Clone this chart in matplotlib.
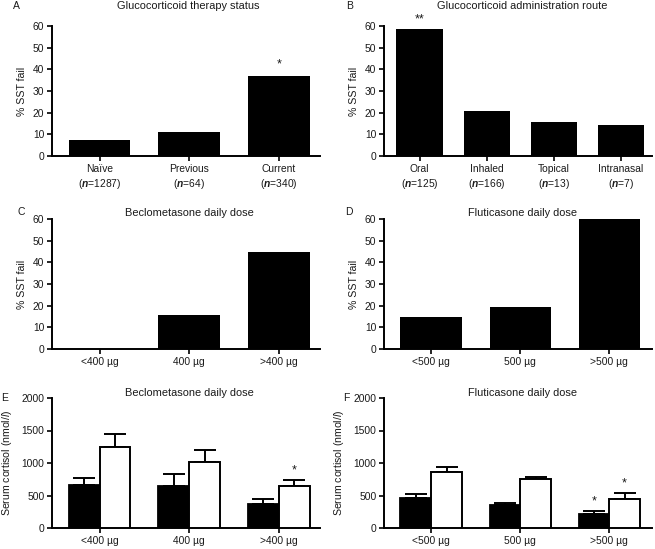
import matplotlib
matplotlib.use("Agg")
import matplotlib.pyplot as plt
import numpy as np

plt.rcParams['font.family'] = ['Liberation Sans', 'DejaVu Sans']
plt.rcParams['mathtext.fontset'] = 'custom'
plt.rcParams['mathtext.rm'] = 'Liberation Sans'
plt.rcParams['mathtext.it'] = 'Liberation Sans:italic'
plt.rcParams['mathtext.bf'] = 'Liberation Sans:bold:italic'

TXT = '#1a1a1a'

# ---------------- data ----------------
status_cats = ['Naïve', 'Previous', 'Current']
status_n = [1287, 64, 340]
status_fail = [7.5, 11.0, 37.0]

route_cats = ['Oral', 'Inhaled', 'Topical', 'Intranasal']
route_n = [125, 166, 13, 7]
route_fail = [58.8, 20.8, 15.5, 14.3]

beclo_cats = ['<400 µg', '400 µg', '>400 µg']
beclo_fail = [0.0, 15.6, 44.9]

flut_cats = ['<500 µg', '500 µg', '>500 µg']
flut_fail = [14.7, 19.2, 60.3]

beclo_base = [660, 650, 371]
beclo_base_err = [113, 175, 72]
beclo_stim = [1242, 1020, 644]
beclo_stim_err = [201, 176, 88]

flut_base = [467, 359, 210]
flut_base_err = [61, 31, 52]
flut_stim = [862, 754, 451]
flut_stim_err = [76, 31, 87]

# significance marks
stars_A = {2: '*'}
stars_B = {0: '**'}
stars_E = {('stim', 2): '*'}
stars_F = {('base', 2): '*', ('stim', 2): '*'}

W, H = 655, 549
fig = plt.figure(figsize=(W / 100, H / 100), dpi=100)


def add_ax(x0, x1, y0, y1):
    return fig.add_axes([x0 / W, 1 - y1 / H, (x1 - x0) / W, (y1 - y0) / H])


def style(ax):
    for s in ['top', 'right']:
        ax.spines[s].set_visible(False)
    for s in ['left', 'bottom']:
        ax.spines[s].set_linewidth(1.4)
        ax.spines[s].set_color('black')
    ax.tick_params(axis='both', direction='out', length=3.5, width=1.2,
                   labelsize=7.4, colors='black', labelcolor=TXT, pad=2)


def pct_panel(ax, cats, vals, labels, xlim):
    x = np.arange(len(cats))
    ax.bar(x, vals, width=0.69, color='black', edgecolor='black', linewidth=0)
    ax.set_xlim(*xlim)
    ax.set_ylim(0, 60)
    ax.set_yticks(np.arange(0, 61, 10))
    ax.set_xticks(x)
    ax.set_xticklabels(labels, linespacing=1.3)
    ax.set_ylabel('% SST fail', fontsize=7.6, color=TXT, labelpad=4)
    style(ax)
    return x


def cort_panel(ax, cats, base, berr, stim, serr, xlim):
    x = np.arange(len(cats))
    w = 0.345
    ax.bar(x - w / 2, base, width=w, color='black', edgecolor='black', linewidth=1.3, zorder=3)
    ax.bar(x + w / 2, stim, width=w, color='white', edgecolor='black', linewidth=1.4, zorder=3)
    ax.errorbar(x - w / 2, base, yerr=[np.zeros(len(base)), berr], fmt='none',
                ecolor='black', elinewidth=1.4, capsize=8, capthick=1.4, zorder=2)
    ax.errorbar(x + w / 2, stim, yerr=[np.zeros(len(stim)), serr], fmt='none',
                ecolor='black', elinewidth=1.4, capsize=8, capthick=1.4, zorder=2)
    ax.set_xlim(*xlim)
    ax.set_ylim(0, 2000)
    ax.set_yticks([0, 500, 1000, 1500, 2000])
    ax.set_xticks(x)
    ax.set_xticklabels(cats)
    ax.set_ylabel('Serum cortisol (nmol/$\\mathit{l}$)', fontsize=7.6, color=TXT, labelpad=5)
    style(ax)
    return x, w


# ---- A ----
axA = add_ax(52, 320, 26, 156)
labA = [f'{c}\n($\\mathbf{{n}}$={n})' for c, n in zip(status_cats, status_n)]
xA = pct_panel(axA, status_cats, status_fail, labA, (-0.53, 2.46))
for i, m in stars_A.items():
    axA.text(xA[i], status_fail[i] + 2.5, m, ha='center', va='bottom', fontsize=9, color=TXT)

# ---- B ----
axB = add_ax(384, 652, 26, 156)
labB = [f'{c}\n($\\mathbf{{n}}$={n})' for c, n in zip(route_cats, route_n)]
xB = pct_panel(axB, route_cats, route_fail, labB, (-0.53, 3.46))
for i, m in stars_B.items():
    axB.text(xB[i], route_fail[i] + 1.6, m, ha='center', va='bottom', fontsize=9, color=TXT)

# ---- C ----
axC = add_ax(52, 320, 219, 349)
pct_panel(axC, beclo_cats, beclo_fail, beclo_cats, (-0.53, 2.46))

# ---- D ----
axD = add_ax(384, 652, 219, 349)
pct_panel(axD, flut_cats, flut_fail, flut_cats, (-0.53, 2.48))

# ---- E ----
axE = add_ax(52, 320, 398, 528)
xE, wE = cort_panel(axE, beclo_cats, beclo_base, beclo_base_err, beclo_stim, beclo_stim_err, (-0.53, 2.46))
for (s, i), m in stars_E.items():
    if s == 'stim':
        axE.text(xE[i] + wE / 2, beclo_stim[i] + beclo_stim_err[i] + 60, m, ha='center', va='bottom', fontsize=9, color=TXT)
    else:
        axE.text(xE[i] - wE / 2, beclo_base[i] + beclo_base_err[i] + 60, m, ha='center', va='bottom', fontsize=9, color=TXT)

# ---- F ----
axF = add_ax(384, 652, 398, 528)
xF, wF = cort_panel(axF, flut_cats, flut_base, flut_base_err, flut_stim, flut_stim_err, (-0.53, 2.48))
for (s, i), m in stars_F.items():
    if s == 'stim':
        axF.text(xF[i] + wF / 2, flut_stim[i] + flut_stim_err[i] + 60, m, ha='center', va='bottom', fontsize=9, color=TXT)
    else:
        axF.text(xF[i] - wF / 2, flut_base[i] + flut_base_err[i] + 60, m, ha='center', va='bottom', fontsize=9, color=TXT)


def ftext(x, y, s, size=7.9, **kw):
    fig.text(x / W, 1 - y / H, s, fontsize=size, color=TXT, va='center', **kw)

ftext(188, 6, 'Glucocorticoid therapy status', ha='center')
ftext(522, 6, 'Glucocorticoid administration route', ha='center')
ftext(189, 213, 'Beclometasone daily dose', ha='center')
ftext(522, 213, 'Fluticasone daily dose', ha='center')
ftext(189, 393, 'Beclometasone daily dose', ha='center')
ftext(522, 393, 'Fluticasone daily dose', ha='center')

ftext(13, 6, 'A', size=7.5, ha='left')
ftext(346, 6, 'B', size=7.5, ha='left')
ftext(18, 212, 'C', size=7.5, ha='left')
ftext(345, 212, 'D', size=7.5, ha='left')
ftext(1, 398, 'E', size=7.5, ha='left')
ftext(343, 398, 'F', size=7.5, ha='left')

fig.savefig('out.png', dpi=100)
